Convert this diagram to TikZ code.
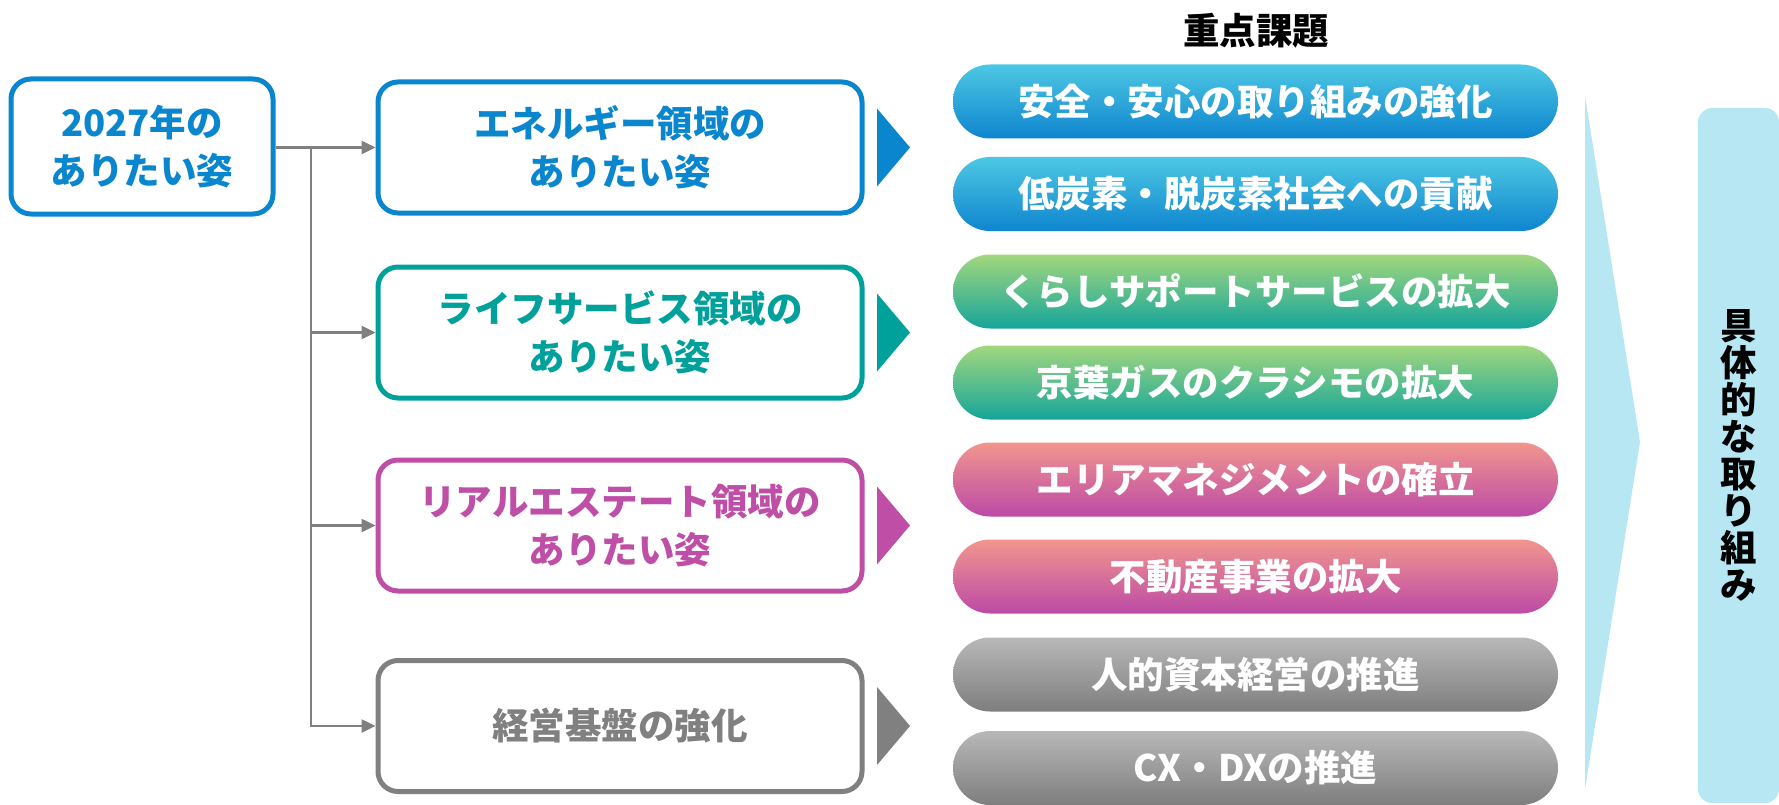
\documentclass[tikz,border=0pt]{standalone}
\usepackage{fontspec}
\setmainfont{Noto Sans CJK JP}
\usetikzlibrary{arrows.meta}
\definecolor{cblue}{HTML}{0A86CF}
\definecolor{cteal}{HTML}{00A19A}
\definecolor{cmag}{HTML}{BE4EA6}
\definecolor{cgray}{HTML}{808080}
\definecolor{lblue}{HTML}{B6E7F3}
\definecolor{pbT}{HTML}{4DC8E3}
\definecolor{pbB}{HTML}{0E85CF}
\definecolor{pgT}{HTML}{A2D77E}
\definecolor{pgB}{HTML}{15A59A}
\definecolor{ppT}{HTML}{F2968E}
\definecolor{ppB}{HTML}{BC4AA6}
\definecolor{pyT}{HTML}{B8B8B8}
\definecolor{pyB}{HTML}{7E7E7E}
\tikzset{
  areabox/.style={draw=#1, text=#1, line width=5pt, rounded corners=20pt, fill=white,
    minimum width=484pt, minimum height=131pt, align=center,
    font=\fontsize{36.5}{48}\selectfont\bfseries},
  pill/.style n args={2}{rounded corners=37pt, top color=#1, bottom color=#2,
    minimum width=605pt, minimum height=74pt, text=white, inner sep=0pt,
    font=\fontsize{36.5}{40}\selectfont\bfseries},
  conn/.style={draw=cgray, line width=2.5pt, -{Triangle[length=14pt,width=13pt]}},
}
\begin{document}
\begin{tikzpicture}[x=1pt,y=-1pt]
\useasboundingbox (0,0) rectangle (1779,805);
% left box
\node[areabox=cblue, minimum width=262pt, minimum height=135pt] (A) at (142,146.5) {2027年の\\ありたい姿};
% area boxes
\node[areabox=cblue] (B) at (620,147.5) {エネルギー領域の\\ありたい姿};
\node[areabox=cteal] (C) at (620,332.5) {ライフサービス領域の\\ありたい姿};
\node[areabox=cmag] (D) at (620,525.5) {リアルエステート領域の\\ありたい姿};
\node[areabox=cgray] (E) at (620,726) {経営基盤の強化};
% connectors
\coordinate (J) at (311,147.5);
\draw[conn] (A.east |- J) -- (B.west |- J);
\draw[draw=cgray, line width=2.5pt] (J) -- (311,726);
\draw[conn] (J) |- (C.west);
\draw[conn] (J) |- (D.west);
\draw[conn] (J) |- (E.west);
% triangles
\fill[cblue] (877,108.5) -- (910,147.5) -- (877,186.5) -- cycle;
\fill[cteal] (877,293.5) -- (910,332.5) -- (877,371.5) -- cycle;
\fill[cmag] (877,486.5) -- (910,525.5) -- (877,564.5) -- cycle;
\fill[cgray] (877,687) -- (910,726) -- (877,765) -- cycle;
% heading
\node[font=\fontsize{36.5}{40}\selectfont\bfseries, text=black] (H) at (1256,31) {重点課題};
% pills
\node[pill={pbT}{pbB}] (P1) at (1255.5,101.5) {安全・安心の取り組みの強化};
\node[pill={pbT}{pbB}] (P2) at (1255.5,194) {低炭素・脱炭素社会への貢献};
\node[pill={pgT}{pgB}] (P3) at (1255.5,291.5) {くらしサポートサービスの拡大};
\node[pill={pgT}{pgB}] (P4) at (1255.5,382.5) {京葉ガスのクラシモの拡大};
\node[pill={ppT}{ppB}] (P5) at (1255.5,479.5) {エリアマネジメントの確立};
\node[pill={ppT}{ppB}] (P6) at (1255.5,576.5) {不動産事業の拡大};
\node[pill={pyT}{pyB}] (P7) at (1255.5,674.5) {人的資本経営の推進};
\node[pill={pyT}{pyB}] (P8) at (1255.5,768) {CX・DXの推進};
% big chevron
\fill[lblue] (1585,96) -- (1640,442) -- (1585,789) -- cycle;
% right box
\node[fill=lblue, rounded corners=14pt, minimum width=81pt, minimum height=695pt,
  inner sep=0pt, align=center, font=\fontsize{36.5}{37}\selectfont\bfseries] (R) at (1738.5,455.5)
  {具\\体\\的\\な\\取\\り\\組\\み};
\end{tikzpicture}
\end{document}
